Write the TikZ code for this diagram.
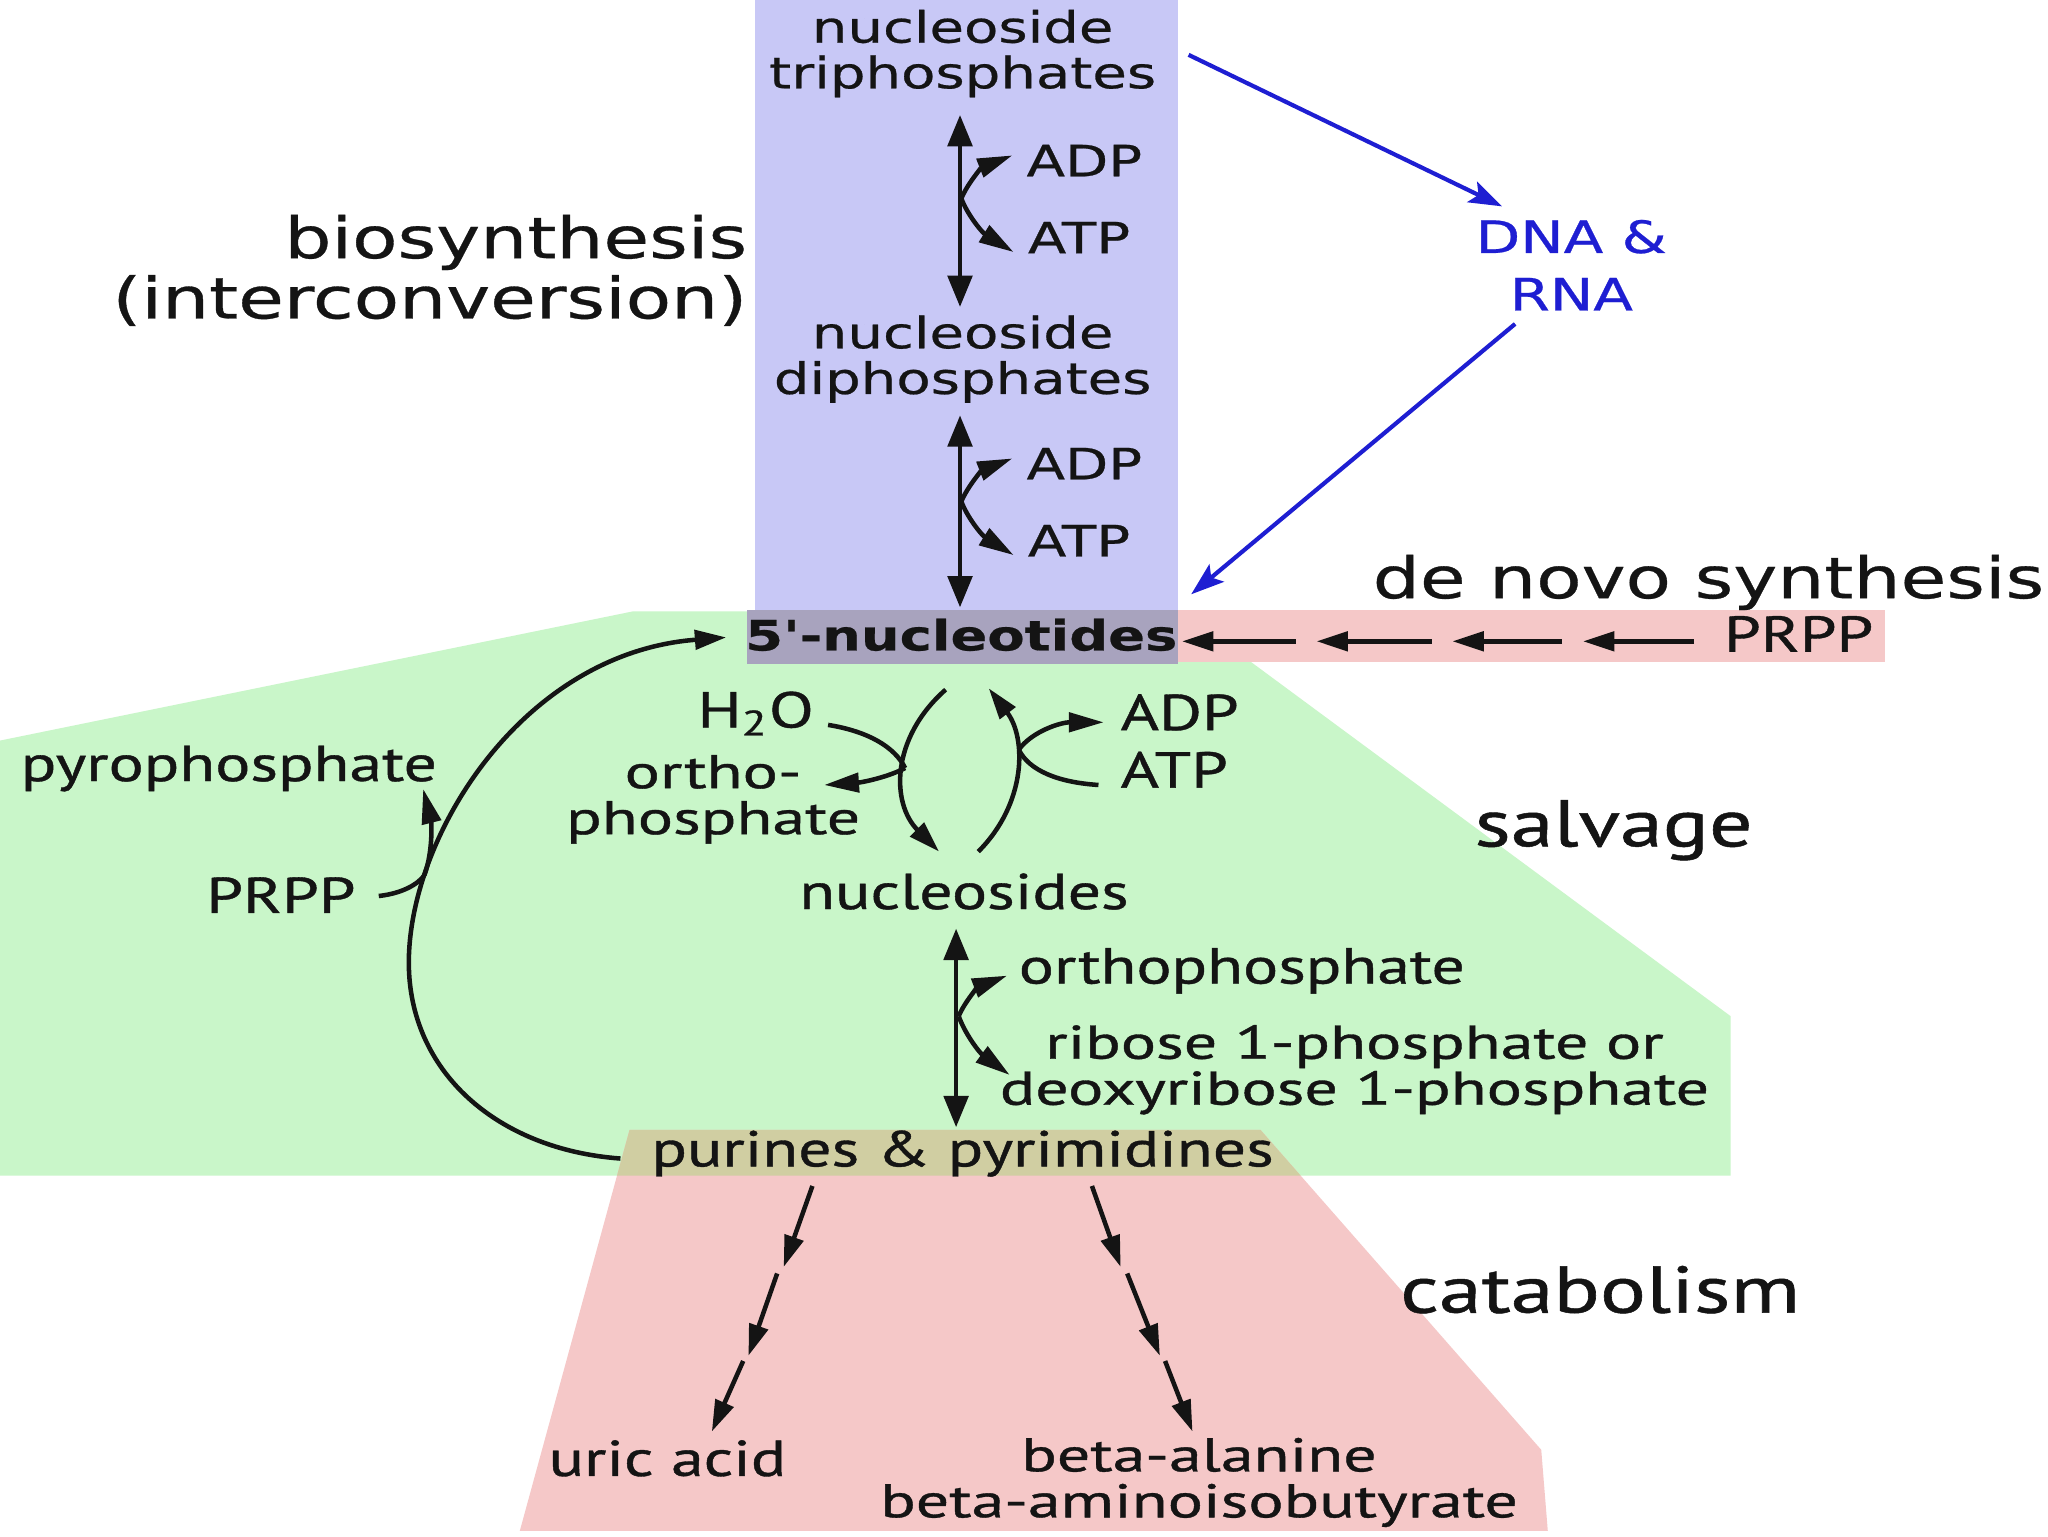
\documentclass[tikz,border=0pt]{standalone}
\usepackage{fontspec}
\setmainfont{PT Sans}[FakeBold=0.7]
\newfontfamily\vfont{DejaVu Sans}[FakeBold=0.5]
\usepackage{graphicx}
\usetikzlibrary{arrows.meta}
\definecolor{boxblue}{RGB}{200,200,246}
\definecolor{boxgreen}{RGB}{201,246,201}
\definecolor{boxpink}{RGB}{245,200,200}
\definecolor{boxgray}{RGB}{168,163,190}
\definecolor{boxtan}{RGB}{208,206,162}
\definecolor{dnablue}{RGB}{30,30,210}
\definecolor{ink}{RGB}{20,20,20}
\newcommand{\sx}[1]{\scalebox{1.3}[1]{#1}}
\newcommand{\sxx}[1]{\scalebox{1.39}[1]{#1}}
\lineskiplimit=-100pt
\begin{document}
\lineskiplimit=-100pt
\begin{tikzpicture}[x=0.375pt,y=-0.375pt,
  lbl/.style={inner sep=0pt, outer sep=0pt, text=ink},
  vf/.style={lbl, font=\vfont\fontsize{12.4}{13.1}\selectfont},
  vbig/.style={lbl, font=\vfont\fontsize{16.4}{17.3}\selectfont},
  pf/.style={lbl, font=\fontsize{14.5}{12.6}\selectfont},
  pm/.style={lbl, font=\fontsize{13.6}{13.2}\selectfont},
  pbig/.style={lbl, font=\fontsize{19}{20}\selectfont},
  ln/.style={line width=1.3pt, ink},
  dar/.style={ln, {Triangle[length=9pt,width=7pt]}-{Triangle[length=9pt,width=7pt]}},
  ar/.style={ln, -{Triangle[length=9pt,width=5.5pt]}},
  sar/.style={ln, -{Triangle[length=10pt,width=5.5pt]}},
  bar/.style={line width=1.2pt, dnablue, -{Stealth[length=9.5pt,width=6.5pt,inset=2pt]}},
]
\useasboundingbox (0,0) rectangle (1568,1176);
\fill[white] (0,0) rectangle (1568,1176);

% ---------- background regions ----------
\fill[boxgreen] (0,567) -- (485,468) -- (905,468) -- (905,507) -- (958,507)
  -- (1325,778) -- (1325,900) -- (0,900) -- cycle;
\fill[boxpink] (482,865) -- (965,865) -- (1180,1110) -- (1185,1172) -- (398,1172) -- cycle;
\begin{scope}
  \clip (0,567) -- (485,468) -- (905,468) -- (905,507) -- (958,507)
    -- (1325,778) -- (1325,900) -- (0,900) -- cycle;
  \fill[boxtan] (482,865) -- (965,865) -- (1180,1110) -- (1185,1172) -- (398,1172) -- cycle;
\end{scope}
\fill[boxblue] (578,0) rectangle (902,468);
\fill[boxpink] (900,467) rectangle (1443,507);
\fill[boxgray] (572,467) rectangle (902,508);

% ---------- labels ----------
\node[vf, align=center] (ntp) at (737,41) {\sx{nucleoside}\\\sx{triphosphates}};
\node[vf, align=center] (ndp) at (737,275) {\sx{nucleoside}\\\sx{diphosphates}};
\node[vf, anchor=base west] (adpa) at (786,135) {\sx{ADP}};
\node[vf, anchor=base west] (atpa) at (787,194) {\sx{ATP}};
\node[vf, anchor=base west] (adpb) at (786,367) {\sx{ADP}};
\node[vf, anchor=base west] (atpb) at (787,426) {\sx{ATP}};
\node[vbig, align=right, anchor=east] (bio) at (572,207) {\sx{biosynthesis}\\\sx{(interconversion)}};
\node[lbl, text=dnablue, font=\vfont\fontsize{12.8}{16.5}\selectfont, align=center] (dna) at (1203,203) {\sx{DNA \&}\\\sx{RNA}};
\node[vbig, anchor=base west] (denovo) at (1051,458) {\sx{de novo synthesis}};
\node[lbl, font=\vfont\bfseries\fontsize{12}{13}\selectfont, anchor=base] (nuc) at (736,498) {\sx{5'-nucleotides}};
\node[pf, anchor=base west] (prppa) at (1320,499) {\sx{PRPP}};

\node[pf, anchor=base west] (h2o) at (534,557) {\sx{H\textsubscript{2}O}};
\node[pm, align=center] (ortho) at (546,612) {\sxx{ortho-}\\\sxx{phosphate}};
\node[pf, anchor=base west] (adpc) at (858,559) {\sx{ADP}};
\node[pf, anchor=base west] (atpc) at (858,603) {\sx{ATP}};
\node[pf, anchor=base west] (pyro) at (16,598) {\sx{pyrophosphate}};
\node[pf, anchor=base west] (prppb) at (158,699) {\sx{PRPP}};
\node[pbig, anchor=base west] (salv) at (1129,648) {\sx{salvage}};
\node[pf, anchor=base] (nucs) at (738,696) {\sx{nucleosides}};
\node[pf, anchor=base west] (orthop) at (780,753) {\sx{orthophosphate}};
\node[pm, align=center] (ribose) at (1037,819) {\sxx{ribose 1-phosphate or}\\\sxx{deoxyribose 1-phosphate}};
\node[pf, anchor=base] (pur) at (737,893) {\sx{purines \& pyrimidines}};
\node[pbig, anchor=base west] (catab) at (1072,1005) {\sx{catabolism}};
\node[pf, anchor=base] (uric) at (511,1130) {\sx{uric acid}};
\node[pm, align=center] (beta) at (918,1135) {\sxx{beta-alanine}\\\sxx{beta-aminoisobutyrate}};

% ---------- connector end points ----------
\coordinate (d1t) at (735,88);   \coordinate (d1b) at (735,235);
\coordinate (j1) at (736,152);
\coordinate (adpaT) at (775,119); \coordinate (atpaT) at (776,193);
\coordinate (d2t) at (735,318);  \coordinate (d2b) at (735,465);
\coordinate (j2) at (736,384);
\coordinate (adpbT) at (775,351); \coordinate (atpbT) at (776,425);
\coordinate (b1s) at (910,42);   \coordinate (b1e) at (1150,158);
\coordinate (b2s) at (1160,248); \coordinate (b2e) at (912,455);
\coordinate (n1) at (1297,491); \coordinate (n2) at (1212,491);
\coordinate (n3) at (1196,491); \coordinate (n4) at (1112,491);
\coordinate (n5) at (1096,491); \coordinate (n6) at (1008,491);
\coordinate (n7) at (992,491);  \coordinate (n8) at (905,491);
\coordinate (la) at (724,528);  \coordinate (lb) at (719,652);
\coordinate (ra) at (749,652);  \coordinate (rb) at (757,527);
\coordinate (hs) at (634,555);  \coordinate (hv) at (693,588);
\coordinate (ot) at (631,601);
\coordinate (rv) at (780,574);  \coordinate (adpcT) at (845,553);
\coordinate (atpcS) at (841,601);
\coordinate (cs) at (475,887);  \coordinate (cm) at (313,737);
\coordinate (ce) at (556,488);
\coordinate (pj) at (325,670);  \coordinate (ps) at (290,686);
\coordinate (pt) at (324,604);
\coordinate (d3t) at (732,711);  \coordinate (d3b) at (732,863);
\coordinate (j3) at (734,778);
\coordinate (opT) at (771,747);  \coordinate (rbT) at (773,823);
\coordinate (l1) at (622,908); \coordinate (l2) at (600,970);
\coordinate (l3) at (595,975); \coordinate (l4) at (573,1038);
\coordinate (l5) at (569,1042); \coordinate (l6) at (545,1096);
\coordinate (r1) at (836,908); \coordinate (r2) at (858,970);
\coordinate (r3) at (863,975); \coordinate (r4) at (888,1038);
\coordinate (r5) at (892,1042); \coordinate (r6) at (913,1096);

% ---------- biosynthesis arrows ----------
\draw[dar] (d1t) -- (d1b);
\draw[sar] (j1) .. controls (741,140) and (752,128) .. (adpaT);
\draw[sar] (j1) .. controls (741,165) and (752,178) .. (atpaT);
\draw[dar] (d2t) -- (d2b);
\draw[sar] (j2) .. controls (741,372) and (752,360) .. (adpbT);
\draw[sar] (j2) .. controls (741,397) and (752,410) .. (atpbT);

% ---------- DNA & RNA ----------
\draw[bar] (b1s) -- (b1e);
\draw[bar] (b2s) -- (b2e);

% ---------- de novo ----------
\draw[ar] (n1) -- (n2);
\draw[ar] (n3) -- (n4);
\draw[ar] (n5) -- (n6);
\draw[ar] (n7) -- (n8);

% ---------- salvage ----------
\draw[ar] (la) .. controls (682,565) and (682,615) .. (lb);
\draw[ar] (ra) .. controls (786,615) and (786,565) .. (rb);
\draw[ln] (hs) .. controls (665,560) and (685,572) .. (hv);
\draw[sar] (hv) .. controls (680,595) and (660,599) .. (ot);
\draw[sar] (rv) .. controls (790,560) and (812,553) .. (adpcT);
\draw[ln] (atpcS) .. controls (810,599) and (788,590) .. (rv);
\draw[ar] (cs) .. controls (380,880) and (313,820) .. (cm)
  .. controls (313,640) and (400,500) .. (ce);
\draw[ln] (ps) .. controls (308,684) and (320,677) .. (pj);
\draw[sar] (pj) .. controls (332,650) and (330,628) .. (pt);
\draw[dar] (d3t) -- (d3b);
\draw[sar] (j3) .. controls (739,766) and (750,755) .. (opT);
\draw[sar] (j3) .. controls (739,792) and (750,806) .. (rbT);

% ---------- catabolism ----------
\draw[ar] (l1) -- (l2);
\draw[ar] (l3) -- (l4);
\draw[ar] (l5) -- (l6);
\draw[ar] (r1) -- (r2);
\draw[ar] (r3) -- (r4);
\draw[ar] (r5) -- (r6);
\end{tikzpicture}
\end{document}
